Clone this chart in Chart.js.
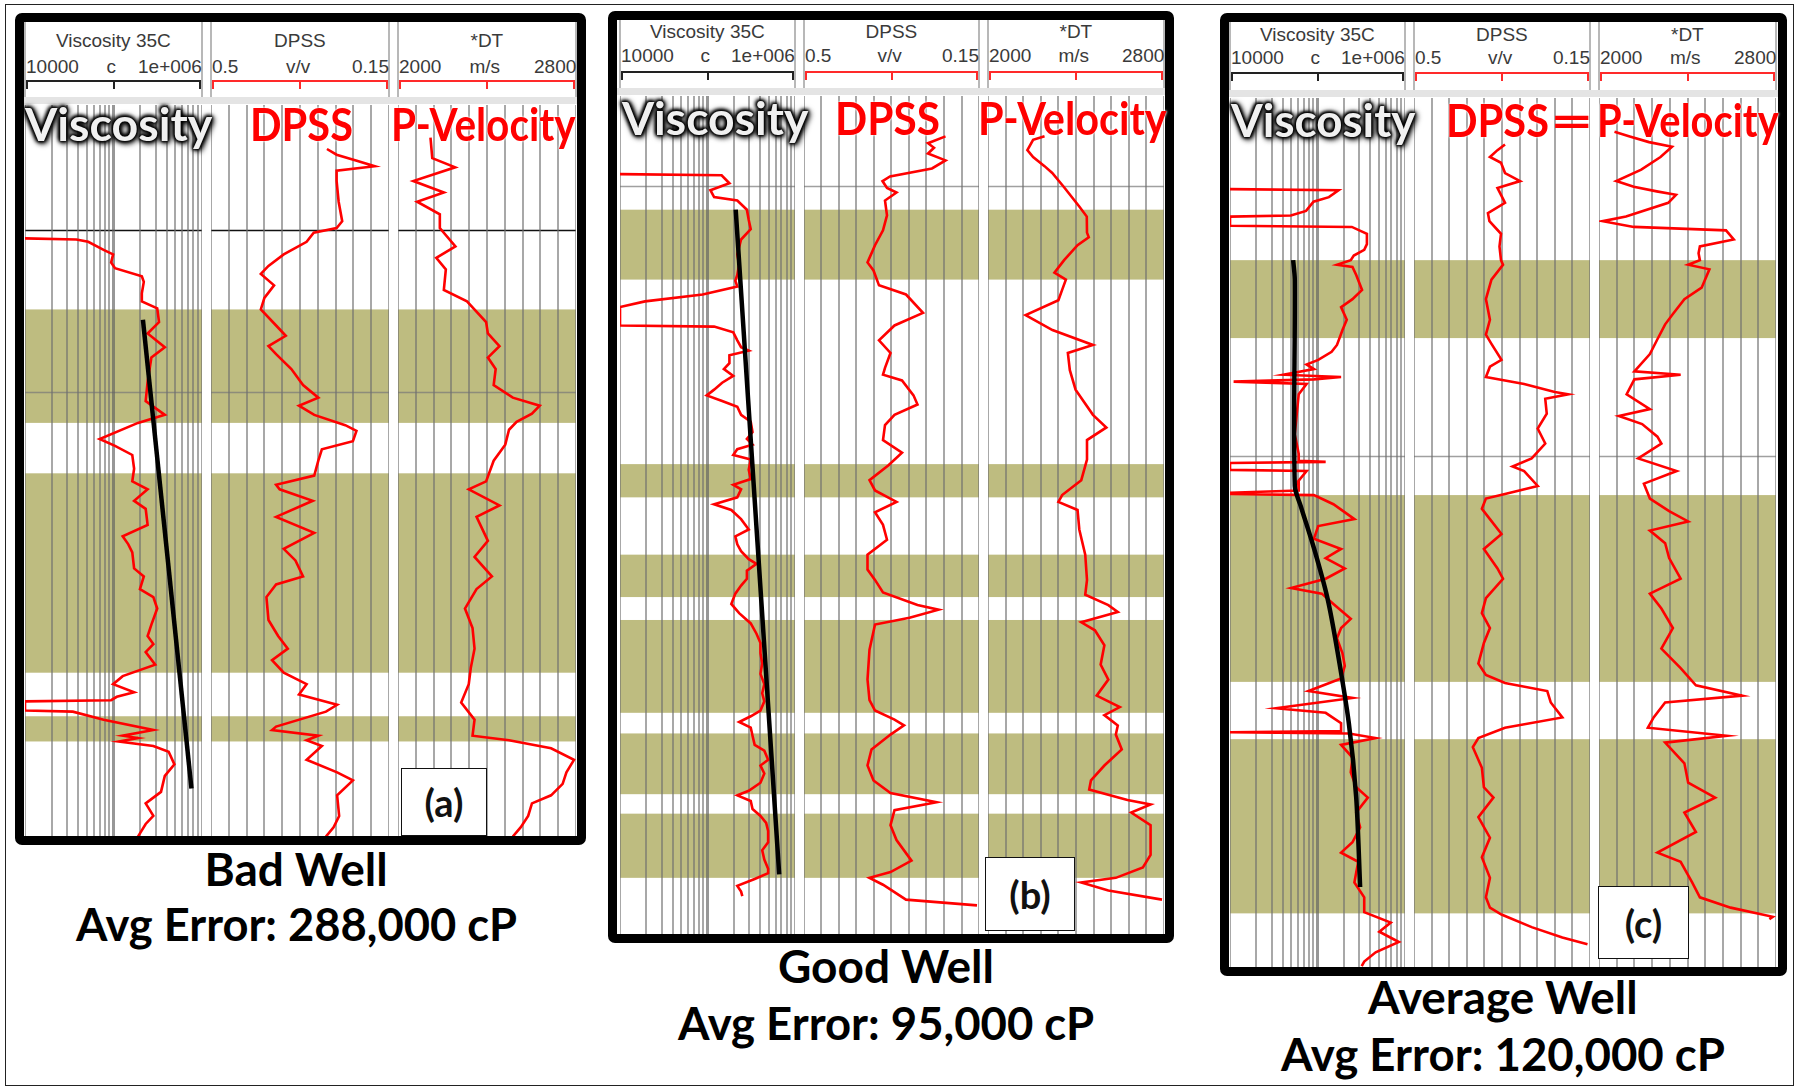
<!DOCTYPE html>
<html><head><meta charset="utf-8">
<script src="https://cdn.jsdelivr.net/npm/chart.js@4.4.1/dist/chart.umd.min.js"></script>
<style>
html,body{margin:0;padding:0;background:#fff}
body{width:1797px;height:1089px;position:relative;overflow:hidden;font-family:"Liberation Sans",Arial,sans-serif}
.t{position:absolute;white-space:nowrap}
canvas{position:absolute}
</style></head><body>
<script>
// ---------------- DATA ----------------
const viscTicks = [10000,20000,30000,40000,50000,60000,70000,80000,90000,100000,200000,300000,400000,500000,600000,700000,800000,900000,1000000];
const dpssTicks = [0.5,0.465,0.43,0.395,0.36,0.325,0.29,0.255,0.22,0.185,0.15];
const dtTicks = [2000,2080,2160,2240,2320,2400,2480,2560,2640,2720,2800];
const trackTitles = ['Viscosity 35C','DPSS','*DT'];
const scaleLabels = [['10000','c','1e+006'],['0.5','v/v','0.15'],['2000','m/s','2800']];
const bigLabels = ['Viscosity','DPSS','P-Velocity'];
const panelTags = ['(a)','(b)','(c)'];
const wellNames = ['Bad Well','Good Well','Average Well'];
const avgErrors = ['Avg Error: 288,000 cP','Avg Error: 95,000 cP','Avg Error: 120,000 cP'];

// depth ranges (display depth units) of each well
const depthA = [91.6,729.5], depthB = [83.8,815], depthC = [85.5,843.8];
// pay zones [top, base]
const zonesA = [[270,369],[413,587],[625,647]];
const zonesB = [[183,244],[405,434],[484,521],[541,622],[640,693],[710,766]];
const zonesC = [[227,295],[432,595],[645,797]];
// horizontal marker depths
const blackMarksA = [201], grayMarksA = [342];
const blackMarksB = [], grayMarksB = [162];
const blackMarksC = [], grayMarksC = [398];

// [depth, value]
const viscA = [[208,10000],[209,38000],[211,51800],[218,77300],[222,99000],[229,94000],[234,104000],[241,209000],[246,220000],[256,209000],[263,209000],[269,312000],[281,327000],[291,243000],[303,380000],[312,268000],[333,243000],[350,231000],[362,380000],[369,189000],[383,69800],[389,104000],[397,163000],[409,171000],[420,163000],[427,243000],[437,171000],[444,231000],[458,243000],[468,127000],[475,147000],[482,163000],[496,171000],[503,220000],[514,199000],[521,282000],[531,312000],[545,268000],[555,243000],[562,282000],[569,231000],[580,296000],[590,127000],[597,99000],[604,171000],[608,109000],[611,94000],[612,10000],[620,10000],[621,34700],[628,77300],[637,282000],[642,127000],[644,189000],[647,115000],[651,282000],[656,420000],[667,488000],[677,380000],[691,344000],[701,231000],[712,282000],[719,231000],[730,189000]];
const fitA = [[279,215000],[688,760000]];
const dpssA = [[130,0.272],[135,0.253],[140,0.215],[145,0.178],[149,0.253],[158,0.253],[176,0.249],[193,0.242],[199,0.253],[203,0.298],[211,0.312],[222,0.357],[232,0.387],[239,0.402],[249,0.376],[260,0.395],[270,0.402],[284,0.372],[293,0.353],[302,0.387],[309,0.372],[322,0.342],[336,0.319],[347,0.289],[354,0.327],[362,0.297],[371,0.236],[376,0.214],[385,0.221],[392,0.282],[402,0.289],[415,0.297],[423,0.372],[427,0.365],[437,0.3],[451,0.372],[465,0.297],[479,0.357],[489,0.334],[503,0.319],[510,0.372],[521,0.391],[541,0.387],[555,0.368],[566,0.349],[576,0.38],[587,0.357],[597,0.312],[606,0.327],[615,0.252],[621,0.274],[634,0.372],[637,0.38],[642,0.289],[646,0.312],[651,0.282],[663,0.312],[674,0.252],[681,0.221],[694,0.252],[712,0.248],[722,0.259],[730,0.274]];
const dtA = [[120,2146],[138,2154],[146,2257],[158,2069],[168,2206],[176,2086],[187,2188],[199,2188],[215,2258],[225,2172],[235,2215],[253,2206],[263,2310],[281,2396],[291,2404],[302,2456],[312,2404],[322,2439],[336,2430],[347,2516],[354,2637],[361,2602],[368,2533],[375,2499],[388,2482],[402,2430],[420,2396],[427,2318],[441,2456],[451,2353],[472,2404],[486,2344],[503,2422],[514,2353],[531,2301],[548,2335],[566,2344],[583,2327],[597,2318],[613,2284],[628,2344],[642,2335],[646,2499],[653,2688],[663,2791],[674,2757],[684,2740],[694,2688],[701,2602],[712,2585],[722,2551],[730,2516]];

const viscB = [[152,10000],[153,145000],[160,178000],[166,108000],[172,119000],[175,219000],[183,282000],[192,296000],[200,312000],[209,242000],[222,219000],[231,230000],[240,219000],[245,208000],[250,219000],[257,88000],[263,19300],[268,10000],[284,10000],[285,119000],[290,197000],[297,219000],[303,242000],[306,296000],[310,178000],[317,178000],[322,154000],[328,197000],[334,147000],[340,119000],[345,98000],[350,147000],[355,219000],[362,242000],[368,312000],[377,327000],[383,282000],[388,327000],[392,219000],[397,197000],[401,312000],[410,296000],[418,312000],[423,197000],[427,242000],[434,219000],[440,119000],[445,187000],[453,242000],[462,296000],[468,208000],[475,219000],[481,242000],[488,296000],[492,363000],[498,282000],[505,282000],[511,242000],[518,208000],[527,187000],[535,230000],[544,312000],[553,363000],[561,403000],[570,403000],[579,422000],[588,403000],[597,446000],[605,422000],[612,446000],[620,403000],[625,312000],[630,230000],[635,312000],[642,327000],[650,346000],[655,446000],[663,493000],[668,403000],[675,446000],[683,403000],[690,296000],[694,219000],[699,312000],[706,327000],[712,403000],[718,468000],[725,493000],[735,493000],[742,422000],[750,446000],[758,493000],[762,493000],[767,346000],[773,219000],[778,242000],[782,250000]];
const fitB = [[183,210000],[763,660000]];
const dpssB = [[119,0.217],[125,0.252],[129,0.24],[134,0.252],[140,0.217],[147,0.244],[154,0.328],[158,0.343],[164,0.334],[168,0.315],[175,0.338],[188,0.334],[201,0.342],[214,0.358],[229,0.373],[236,0.361],[249,0.35],[257,0.296],[273,0.262],[284,0.319],[297,0.35],[308,0.327],[321,0.338],[327,0.342],[332,0.304],[345,0.281],[353,0.273],[362,0.319],[371,0.338],[384,0.342],[395,0.304],[406,0.331],[419,0.369],[428,0.358],[438,0.315],[447,0.358],[458,0.342],[471,0.334],[484,0.373],[497,0.373],[506,0.358],[517,0.342],[528,0.273],[532,0.231],[539,0.289],[545,0.358],[567,0.369],[593,0.373],[611,0.369],[620,0.358],[628,0.319],[633,0.3],[641,0.327],[654,0.365],[668,0.373],[681,0.361],[692,0.327],[700,0.235],[707,0.319],[720,0.327],[733,0.315],[751,0.285],[761,0.327],[766,0.369],[772,0.342],[785,0.296],[790,0.154]];
const dtB = [[119,2257],[122,2205],[131,2179],[137,2205],[145,2257],[151,2292],[163,2344],[180,2414],[189,2449],[203,2450],[207,2458],[214,2407],[227,2346],[238,2302],[244,2354],[253,2337],[262,2320],[275,2171],[288,2293],[301,2477],[308,2363],[323,2372],[340,2398],[362,2477],[373,2538],[384,2450],[401,2450],[419,2424],[432,2337],[438,2320],[445,2407],[462,2415],[484,2442],[506,2450],[519,2442],[528,2547],[534,2590],[543,2424],[550,2486],[563,2529],[580,2512],[593,2547],[607,2494],[617,2599],[624,2529],[633,2590],[641,2581],[654,2608],[668,2529],[681,2468],[689,2460],[698,2634],[702,2739],[709,2651],[720,2739],[733,2739],[746,2739],[757,2704],[766,2581],[770,2424],[777,2547],[785,2791]];

const viscC = [[165,10000],[166,174000],[172,135000],[176,90000],[184,74000],[188,49600],[189,10000],[197,10000],[198,247000],[204,367000],[213,367000],[218,342000],[223,260000],[227,240000],[231,167000],[233,251000],[240,277000],[253,323000],[261,251000],[268,186000],[279,216000],[288,193000],[301,167000],[307,145000],[314,102000],[318,75000],[322,91000],[327,41000],[329,186000],[331,91000],[333,11000],[335,75000],[344,61000],[361,58000],[379,55000],[396,61000],[402,61000],[403,124000],[404,10000],[410,10000],[411,75000],[420,60000],[428,61000],[430,10000],[431,10000],[432,91000],[440,152000],[453,264000],[459,102000],[470,91000],[479,186000],[487,124000],[496,205000],[505,124000],[513,50000],[518,112000],[527,152000],[540,240000],[548,186000],[557,167000],[570,193000],[581,205000],[592,186000],[603,79000],[609,251000],[618,33500],[622,124000],[631,186000],[638,186000],[639,10000],[640,228000],[644,462000],[650,186000],[661,251000],[674,240000],[687,277000],[696,376000],[709,277000],[722,307000],[735,251000],[744,186000],[752,292000],[770,264000],[783,342000],[796,342000],[805,687000],[813,509000],[822,850000],[831,462000],[839,342000],[843,320000]];
const fitC = [[227,52700],[244,55000],[424,55000],[442,64600],[479,91600],[522,130000],[566,167000],[631,228000],[696,277000],[774,307000]];
const dpssC = [[126,0.319],[131,0.334],[137,0.349],[142,0.327],[151,0.319],[158,0.289],[164,0.334],[170,0.327],[177,0.319],[186,0.353],[193,0.35],[204,0.327],[215,0.33],[227,0.327],[231,0.323],[244,0.346],[261,0.357],[279,0.349],[292,0.357],[300,0.346],[314,0.326],[320,0.349],[329,0.357],[335,0.281],[342,0.22],[344,0.193],[348,0.239],[361,0.236],[374,0.254],[387,0.239],[400,0.266],[407,0.304],[411,0.281],[424,0.254],[431,0.319],[435,0.357],[444,0.365],[453,0.349],[466,0.326],[479,0.361],[496,0.334],[505,0.323],[522,0.357],[535,0.365],[548,0.349],[561,0.361],[579,0.372],[589,0.357],[596,0.319],[603,0.235],[613,0.228],[626,0.205],[635,0.319],[644,0.372],[652,0.383],[670,0.365],[687,0.361],[696,0.342],[713,0.372],[731,0.349],[748,0.365],[766,0.349],[783,0.357],[792,0.349],[798,0.326],[809,0.266],[818,0.205],[824,0.155]];
const dtC = [[115,2070],[119,2139],[124,2226],[128,2330],[137,2278],[148,2191],[158,2078],[163,2157],[167,2261],[170,2348],[177,2313],[189,2122],[193,2017],[198,2157],[201,2574],[209,2609],[215,2456],[221,2450],[227,2456],[231,2403],[235,2499],[251,2464],[261,2386],[274,2334],[283,2299],[296,2264],[309,2230],[324,2160],[327,2369],[331,2160],[344,2125],[357,2230],[363,2090],[370,2195],[381,2264],[387,2282],[400,2177],[411,2351],[422,2203],[435,2230],[446,2317],[455,2403],[463,2230],[474,2299],[487,2317],[505,2369],[518,2230],[531,2282],[548,2334],[566,2282],[583,2369],[598,2438],[607,2647],[613,2299],[626,2247],[635,2221],[642,2577],[648,2299],[666,2386],[683,2403],[696,2525],[709,2386],[726,2438],[744,2264],[752,2369],[770,2421],[783,2456],[792,2595],[800,2786],[802,2770]];

// ---------------- LAYOUT (positions / styles) ----------------
const LAYOUT = [
 {frame:[15,13,586,845], tracks:[[25,202],[211,389],[398,576]], plot:[105,836], titleY:41, labelY:66.5, barY:80,
  bigTop:101, big:[[25,187],[250,103],[391,185]], eq:null, box:[401,768,487,836], capTops:[846,901], capW:[183,441], capCx:296},
 {frame:[608,11,1174,943], tracks:[[620,795],[804,979],[988,1164]], plot:[96,934], titleY:32, labelY:55.5, barY:71,
  bigTop:95, big:[[622,186],[835,105],[978,189]], eq:null, box:[985,857,1075,931], capTops:[943,1000], capW:[216,416], capCx:886},
 {frame:[1220,13,1787,976], tracks:[[1230,1405],[1414,1590],[1599,1776]], plot:[98,967], titleY:34.5, labelY:57.5, barY:72,
  bigTop:97, big:[[1231,184],[1446,103],[1597,182]], eq:[1550,44], box:[1598,886,1689,959], capTops:[974,1031], capW:[270,444], capCx:1503}
];
const WELLS = [
 {depth:depthA, zones:zonesA, black:blackMarksA, gray:grayMarksA, visc:viscA, fit:fitA, dpss:dpssA, dt:dtA},
 {depth:depthB, zones:zonesB, black:blackMarksB, gray:grayMarksB, visc:viscB, fit:fitB, dpss:dpssB, dt:dtB},
 {depth:depthC, zones:zonesC, black:blackMarksC, gray:grayMarksC, visc:viscC, fit:fitC, dpss:dpssC, dt:dtC}
];
const OLIVE = 'rgb(190,188,128)';
const GRID = 'rgba(110,110,110,0.6)';
const RED = '#ff0000';

const body = document.body;
function box(l,t,w,h,css){const d=document.createElement('div');d.style.cssText=`position:absolute;left:${l}px;top:${t}px;width:${w}px;height:${h}px;`+(css||'');body.appendChild(d);return d;}
function txt(s,css){const d=document.createElement('div');d.className='t';d.textContent=s;d.style.cssText+=css;body.appendChild(d);return d;}
function fit(el,left,width){const nat=el.offsetWidth;el.style.left=left+'px';el.style.transformOrigin='left top';el.style.transform=`scaleX(${width/nat})`;}

// outer thin border
box(5,4,1789,1082,'border:1.5px solid #222;box-sizing:border-box;');

const zonePlugin = {
  id:'zones',
  beforeDraw(chart,args,opts){
    const {ctx,chartArea:{left,right},scales:{y}} = chart;
    ctx.save();
    ctx.fillStyle = OLIVE;
    for (const [a,b] of opts.zones){const y0=y.getPixelForValue(a),y1=y.getPixelForValue(b);ctx.fillRect(left,y0,right-left,y1-y0);}
    ctx.lineWidth = 1.5;
    ctx.strokeStyle = 'rgba(120,120,120,0.7)';
    for (const d of opts.gray){const p=Math.round(y.getPixelForValue(d))+0.5;ctx.beginPath();ctx.moveTo(left,p);ctx.lineTo(right,p);ctx.stroke();}
    ctx.strokeStyle = '#111';
    for (const d of opts.black){const p=Math.round(y.getPixelForValue(d))+0.5;ctx.beginPath();ctx.moveTo(left,p);ctx.lineTo(right,p);ctx.stroke();}
    ctx.restore();
  }
};

function pts(arr){return arr.map(([d,v])=>({x:v,y:d}));}

function makeChart(x0,x1,y0,y1,kind,well){
  const w=x1-x0,h=y1-y0;
  const c=document.createElement('canvas');
  c.width=w;c.height=h;c.style.left=x0+'px';c.style.top=y0+'px';c.style.width=w+'px';c.style.height=h+'px';
  body.appendChild(c);
  let xs, ticks, datasets;
  if(kind==='visc'){
    ticks=viscTicks;
    xs={type:'logarithmic',min:10000,max:1000000};
    datasets=[
      {data:pts(well.fit),borderColor:'#000',borderWidth:4.5,showLine:true,pointRadius:0,tension:0.3},
      {data:pts(well.visc),borderColor:RED,borderWidth:2.6,showLine:true,pointRadius:0,tension:0}
    ];
  } else if(kind==='dpss'){
    ticks=dpssTicks;
    xs={type:'linear',min:0.15,max:0.5,reverse:true};
    datasets=[{data:pts(well.dpss),borderColor:RED,borderWidth:2.6,showLine:true,pointRadius:0,tension:0}];
  } else {
    ticks=dtTicks;
    xs={type:'linear',min:2000,max:2800};
    datasets=[{data:pts(well.dt),borderColor:RED,borderWidth:2.6,showLine:true,pointRadius:0,tension:0}];
  }
  Object.assign(xs,{
    display:true,
    ticks:{display:false,autoSkip:false},
    border:{display:false},
    grid:{drawTicks:false,
      color:ctx=>(kind==='visc'&&ctx.tick&&ctx.tick.value===100000)?'rgba(95,95,95,0.65)':GRID,
      lineWidth:ctx=>(kind==='visc'&&ctx.tick&&ctx.tick.value===100000)?3:2},
    afterBuildTicks:s=>{s.ticks=ticks.map(v=>({value:v}));}
  });
  new Chart(c,{
    type:'scatter',
    data:{datasets},
    options:{
      responsive:false,animation:false,devicePixelRatio:1,
      layout:{padding:0},
      scales:{x:xs,y:{type:'linear',reverse:true,min:well.depth[0],max:well.depth[1],display:false}},
      plugins:{legend:{display:false},tooltip:{enabled:false},
        zones:{zones:well.zones,gray:well.gray,black:well.black}},
      elements:{line:{fill:false}}
    },
    plugins:[zonePlugin]
  });
}

LAYOUT.forEach((L,i)=>{
  const W=WELLS[i];
  const [fl,ft,fr,fb]=L.frame;
  box(fl,ft,fr-fl,fb-ft,'border:9px solid #000;border-radius:7px;box-sizing:border-box;background:#fff;');
  const innerL=fl+9,innerR=fr-9,innerT=ft+9;
  // gray band under header
  box(innerL,L.plot[0]-8,innerR-innerL,7,'background:#e4e4e4;');
  const kinds=['visc','dpss','dt'];
  L.tracks.forEach(([a,b],k)=>{
    // header separators
    box(a-1,innerT,2,L.plot[0]-8-innerT,'background:#b8b8b8;');
    box(b-1,innerT,2,L.plot[0]-8-innerT,'background:#b8b8b8;');
    const col = k===0?'#222':'#ff2a2a';
    // scale bar and ticks
    box(a+1,L.barY,b-a-2,2,`background:${col};`);
    box(a+1,L.barY,2,9,`background:${col};`);
    box(Math.round((a+b)/2)-1,L.barY,2,9,`background:${col};`);
    box(b-3,L.barY,2,9,`background:${col};`);
    // title
    const tt=txt(trackTitles[k],`font-size:19px;line-height:22px;color:#3a3a3a;top:${L.titleY-11}px;`);
    tt.style.left=((a+b)/2-tt.offsetWidth/2)+'px';
    const [l1,l2,l3]=scaleLabels[k];
    const e1=txt(l1,`font-size:19px;line-height:22px;color:#3a3a3a;top:${L.labelY-11}px;left:${a+1}px;`);
    const e2=txt(l2,`font-size:19px;line-height:22px;color:#3a3a3a;top:${L.labelY-11}px;`);
    e2.style.left=((a+b)/2-e2.offsetWidth/2-2)+'px';
    const e3=txt(l3,`font-size:19px;line-height:22px;color:#3a3a3a;top:${L.labelY-11}px;`);
    e3.style.left=(b-e3.offsetWidth)+'px';
    makeChart(a,b,L.plot[0],L.plot[1],kinds[k],W);
  });
  // big labels
  L.big.forEach(([x,w],k)=>{
    let css=`font-family:Lato,"Open Sans",sans-serif;font-weight:700;font-size:46px;line-height:46px;top:${L.bigTop}px;z-index:5;`;
    if(k===0) css+='color:#f0f0f0;text-shadow:0 0 2px #000,0 0 3px #000,0 0 4px #000,0 0 5px #000,0 0 7px #000,2px 2px 6px #000,-1px -1px 4px #000;';
    else css+=`color:${RED};text-shadow:0 0 3px #fff,0 0 2px #fff;`;
    const e=txt(bigLabels[k],css);
    fit(e,x,w);
  });
  if(L.eq){
    const e=txt('=',`font-family:Lato,sans-serif;font-weight:700;font-size:46px;line-height:46px;top:${L.bigTop}px;z-index:5;color:${RED};`);
    fit(e,L.eq[0],L.eq[1]);
  }
  // panel tag box
  const [bl,bt,br,bb]=L.box;
  const bx=box(bl,bt,br-bl,bb-bt,'background:#fff;border:1.5px solid #111;box-sizing:border-box;z-index:6;display:flex;align-items:center;justify-content:center;font-family:Lato,sans-serif;font-weight:700;font-size:38px;color:#111;');
  bx.textContent=panelTags[i];
  // captions
  const c1=txt(wellNames[i],`font-family:Lato,sans-serif;font-weight:700;font-size:46px;line-height:46px;color:#000;top:${L.capTops[0]}px;`);
  fit(c1,L.capCx-L.capW[0]/2,L.capW[0]);
  const c2=txt(avgErrors[i],`font-family:Lato,sans-serif;font-weight:700;font-size:46px;line-height:46px;color:#000;top:${L.capTops[1]}px;`);
  fit(c2,L.capCx-L.capW[1]/2,L.capW[1]);
});
</script>
</body></html>
